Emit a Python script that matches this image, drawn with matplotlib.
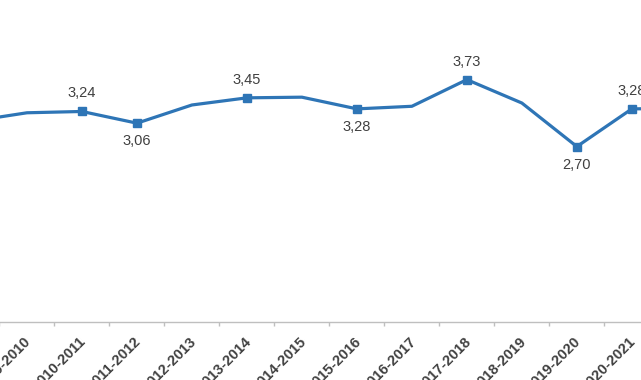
import matplotlib
matplotlib.use("Agg")
import matplotlib.pyplot as plt
from matplotlib.transforms import ScaledTranslation

# sezonlar ve degerler
seasons = ["2008-2009", "2009-2010", "2010-2011", "2011-2012", "2012-2013",
           "2013-2014", "2014-2015", "2015-2016", "2016-2017", "2017-2018",
           "2018-2019", "2019-2020", "2020-2021", "2021-2022"]
values = [3.09, 3.22, 3.24, 3.06, 3.34, 3.45, 3.46, 3.28, 3.32, 3.73,
          3.37, 2.70, 3.28, 3.29]

# etiketli noktalar ve etiketin yeri (ustte / altta)
labeled = [2, 3, 5, 7, 9, 11, 12]
label_side = ["up", "down", "up", "down", "up", "down", "up"]

blue = "#2E75B6"
text_gray = "#404040"

plt.rcParams["font.family"] = ["Liberation Sans", "DejaVu Sans"]

fig = plt.figure(figsize=(6.41, 3.80), dpi=100)
ax = fig.add_axes([-0.0866, 0.1526, 1.201, 0.855])

x = list(range(len(seasons)))
ax.plot(x, values, color=blue, linewidth=2.3, marker="s", markersize=5.5,
        markevery=labeled, solid_joinstyle="round")

for i, side in zip(labeled, label_side):
    txt = f"{values[i]:.2f}".replace(".", ",")
    off = 13 if side == "up" else -13
    ax.annotate(txt, (x[i], values[i]), xytext=(0, off), textcoords="offset points",
                ha="center", va="center", fontsize=10.5, color=text_gray)

ax.set_xlim(-0.5, len(seasons) - 0.5)
ax.set_ylim(0, 5)

# ticks between categories, labels at centers
ax.set_xticks([i + 0.5 for i in x[:-1]], minor=False)
ax.set_xticklabels([])
ax.tick_params(axis="x", which="major", length=3, color="#bfbfbf", width=1)
ax.set_xticks(x, minor=True)
ax.set_xticklabels(seasons, minor=True, rotation=45, ha="right",
                   rotation_mode="anchor", fontsize=10.5, fontweight="bold",
                   color=text_gray)
ax.tick_params(axis="x", which="minor", length=0, pad=9)
shift = ScaledTranslation(-3 / 100, 0, fig.dpi_scale_trans)
for lab in ax.get_xticklabels(minor=True):
    lab.set_transform(lab.get_transform() + shift)

ax.set_yticks([])
for s in ["top", "left", "right"]:
    ax.spines[s].set_visible(False)
ax.spines["bottom"].set_color("#bfbfbf")
ax.spines["bottom"].set_linewidth(1)

fig.savefig("out.png", dpi=100, facecolor="white")
